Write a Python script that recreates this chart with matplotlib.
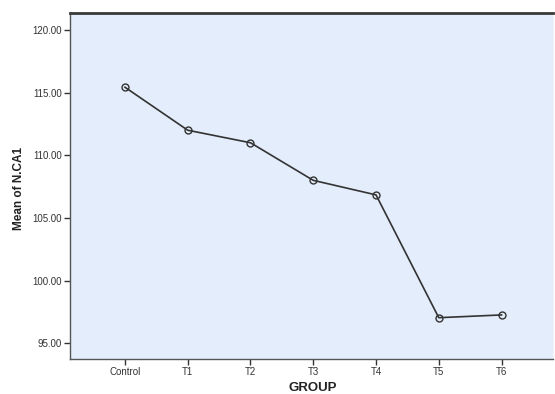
import matplotlib
matplotlib.use("Agg")
import matplotlib.pyplot as plt

groups = ["Control", "T1", "T2", "T3", "T4", "T5", "T6"]
means = [115.43, 112.0, 111.0, 108.0, 106.84, 97.04, 97.26]
yticks = [95, 100, 105, 110, 115, 120]
ytick_labels = ["95.00", "100.00", "105.00", "110.00", "115.00", "120.00"]

plt.rcParams['font.family'] = ['Liberation Sans', 'DejaVu Sans']

fig = plt.figure(figsize=(5.55, 3.94), dpi=100)
ax = fig.add_axes([69.5/555, 1 - 359.3/394, (553 - 69.5)/555, (359.3 - 13.3)/394])
ax.set_facecolor('#e3edfb')

x = list(range(len(groups)))
ax.plot(x, means, color='#333333', linewidth=1.2, marker='o', markersize=5,
        markerfacecolor='none', markeredgecolor='#333333', markeredgewidth=1.0)

ax.set_xlim(-0.884, 6.82)
ax.set_ylim(93.72, 121.33)
ax.set_xticks(x)
ax.set_xticklabels(groups)
ax.set_yticks(yticks)
ax.set_yticklabels(ytick_labels)
ax.tick_params(axis='both', direction='out', length=4, width=1.0, color='#333333',
               labelsize=7, labelcolor='#333333', pad=1.5)

for s in ['left', 'bottom']:
    ax.spines[s].set_color('#555555')
    ax.spines[s].set_linewidth(1.0)
ax.spines['top'].set_color('#3a3a3a')
ax.spines['top'].set_linewidth(2.0)
ax.spines['right'].set_color('#f0f4fa')
ax.spines['right'].set_linewidth(1.0)

fig.text(19/555, 1 - 188/394, "Mean of N.CA1", rotation=90, ha='center', va='center',
         fontsize=8.5, fontweight='bold', color='#222222')
fig.text(313/555, 1 - 388/394, "GROUP", ha='center', va='center',
         fontsize=9.5, fontweight='bold', color='#222222')

fig.savefig("out.png", dpi=100)
